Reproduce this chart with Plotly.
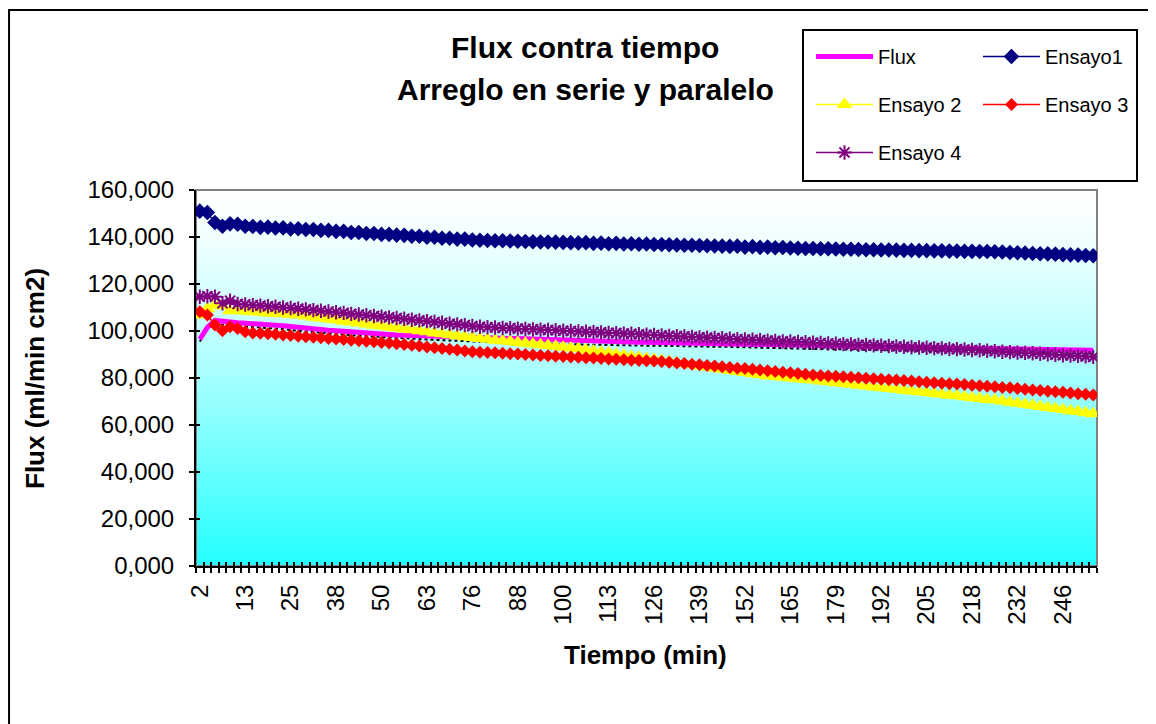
import plotly.graph_objects as go

# ---------------- data ----------------
tiempo = [
    2.0, 3.8, 5.7, 7.5, 9.3, 11.2, 13.0, 15.0, 17.0, 19.0,
    21.0, 23.0, 25.0, 27.2, 29.3, 31.5, 33.7, 35.8, 38.0, 40.0,
    42.0, 44.0, 46.0, 48.0, 50.0, 52.2, 54.3, 56.5, 58.7, 60.8,
    63.0, 65.2, 67.3, 69.5, 71.7, 73.8, 76.0, 78.0, 80.0, 82.0,
    84.0, 86.0, 88.0, 90.0, 92.0, 94.0, 96.0, 98.0, 100.0, 102.2,
    104.3, 106.5, 108.7, 110.8, 113.0, 115.2, 117.3, 119.5, 121.7, 123.8,
    126.0, 128.2, 130.3, 132.5, 134.7, 136.8, 139.0, 141.2, 143.3, 145.5,
    147.7, 149.8, 152.0, 154.2, 156.3, 158.5, 160.7, 162.8, 165.0, 167.3,
    169.7, 172.0, 174.3, 176.7, 179.0, 181.2, 183.3, 185.5, 187.7, 189.8,
    192.0, 194.2, 196.3, 198.5, 200.7, 202.8, 205.0, 207.2, 209.3, 211.5,
    213.7, 215.8, 218.0, 220.3, 222.7, 225.0, 227.3, 229.7, 232.0, 234.3,
    236.7, 239.0, 241.3, 243.7, 246.0, 248.3, 250.7, 253.0, 255.3,
]

flux = [
    96.5, 101.5, 104.5, 104.0, 103.7, 103.5, 103.3, 103.2, 103.0, 102.8,
    102.5, 102.2, 101.8, 101.5, 101.2, 100.8, 100.5, 100.3, 100.1, 99.8,
    99.6, 99.4, 99.2, 99.0, 98.7, 98.5, 98.3, 98.2, 98.0, 97.9,
    97.7, 97.6, 97.5, 97.3, 97.2, 97.0, 96.9, 96.8, 96.7, 96.6,
    96.5, 96.4, 96.4, 96.3, 96.2, 96.1, 96.0, 95.9, 95.8, 95.7,
    95.6, 95.6, 95.5, 95.5, 95.4, 95.4, 95.3, 95.3, 95.2, 95.2,
    95.1, 95.1, 95.0, 95.0, 94.9, 94.9, 94.8, 94.8, 94.7, 94.7,
    94.6, 94.5, 94.4, 94.4, 94.3, 94.2, 94.1, 94.0, 94.0, 93.9,
    93.8, 93.8, 93.7, 93.7, 93.6, 93.6, 93.5, 93.5, 93.4, 93.4,
    93.3, 93.2, 93.2, 93.1, 93.1, 93.0, 93.0, 92.9, 92.8, 92.8,
    92.7, 92.7, 92.6, 92.6, 92.5, 92.5, 92.4, 92.4, 92.3, 92.3,
    92.2, 92.1, 92.1, 92.0, 92.0, 91.9, 91.9, 91.8, 91.8,
]

tendencia = [
    95.5, 100.7, 103.1, 102.6, 102.3, 102.1, 101.9, 101.8, 101.6, 101.4,
    101.1, 100.8, 100.4, 100.1, 99.8, 99.4, 99.1, 98.9, 98.7, 98.4,
    98.2, 98.0, 97.8, 97.6, 97.3, 97.1, 96.9, 96.8, 96.6, 96.5,
    96.3, 96.2, 96.1, 95.9, 95.8, 95.6, 95.5, 95.4, 95.3, 95.2,
    95.1, 95.0, 95.0, 94.9, 94.8, 94.7, 94.6, 94.5, 94.4, 94.3,
    94.2, 94.2, 94.1, 94.1, 94.0, 94.0, 93.9, 93.9, 93.8, 93.8,
    93.7, 93.7, 93.6, 93.6, 93.5, 93.5, 93.4, 93.4, 93.3, 93.3,
    93.2, 93.1, 93.0, 93.0, 92.9, 92.8, 92.7, 92.6, 92.6, 92.5,
    92.4, 92.4, 92.3, 92.3, 92.2, 92.2, 92.1, 92.1, 92.0, 92.0,
    91.9, 91.8, 91.8, 91.7, 91.7, 91.6, 91.6, 91.5, 91.4, 91.4,
    91.3, 91.3, 91.2, 91.2, 91.1, 91.1, 91.0, 91.0, 90.9, 90.9,
    90.8, 90.7, 90.7, 90.6, 90.6, 90.5, 90.5, 90.4, 90.4,
]

ensayo1 = [
    151.0, 150.4, 146.2, 144.6, 145.6, 145.4, 144.6, 144.5, 144.1, 144.2,
    143.8, 143.9, 143.4, 143.5, 143.2, 143.2, 142.8, 142.8, 142.4, 142.4,
    141.9, 141.9, 141.5, 141.5, 141.1, 141.1, 140.8, 140.7, 140.3, 140.3,
    139.9, 139.9, 139.5, 139.5, 139.1, 139.1, 138.7, 138.6, 138.5, 138.4,
    138.4, 138.3, 138.2, 138.1, 138.0, 137.9, 137.9, 137.8, 137.7, 137.6,
    137.5, 137.6, 137.3, 137.4, 137.1, 137.3, 137.0, 137.1, 136.9, 137.0,
    136.8, 136.8, 136.7, 136.6, 136.5, 136.5, 136.4, 136.3, 136.2, 136.1,
    136.0, 136.1, 135.7, 135.9, 135.6, 135.7, 135.4, 135.5, 135.3, 135.2,
    135.1, 135.1, 135.0, 135.0, 134.9, 134.8, 134.8, 134.7, 134.6, 134.6,
    134.5, 134.5, 134.4, 134.3, 134.3, 134.2, 134.2, 134.1, 134.1, 134.0,
    134.0, 133.9, 133.9, 133.8, 133.8, 133.7, 133.6, 133.4, 133.3, 133.2,
    133.0, 132.9, 132.8, 132.7, 132.5, 132.4, 132.3, 132.1, 132.0,
]

ensayo2 = [
    106.8, 109.5, 111.0, 110.6, 108.6, 109.0, 108.4, 108.2, 108.0, 107.7,
    107.5, 107.3, 107.0, 106.8, 106.4, 105.9, 105.5, 105.1, 104.7, 104.2,
    103.8, 103.4, 103.0, 102.5, 102.1, 101.7, 101.3, 100.9, 100.5, 100.1,
    99.7, 99.2, 98.8, 98.4, 98.0, 97.6, 97.2, 96.8, 96.5, 96.1,
    95.8, 95.5, 95.1, 94.8, 94.5, 94.1, 93.8, 93.5, 93.1, 92.8,
    92.4, 91.9, 91.5, 91.0, 90.6, 90.1, 89.7, 89.2, 88.8, 88.3,
    87.9, 87.4, 87.0, 86.5, 86.1, 85.6, 85.1, 84.7, 84.2, 83.7,
    83.2, 82.8, 82.3, 81.8, 81.4, 80.9, 80.6, 80.3, 80.0, 79.7,
    79.4, 79.1, 78.7, 78.4, 78.0, 77.7, 77.3, 76.9, 76.6, 76.2,
    75.9, 75.5, 75.2, 74.8, 74.5, 74.1, 73.8, 73.4, 73.1, 72.7,
    72.4, 72.0, 71.6, 71.3, 70.9, 70.6, 70.2, 69.7, 69.3, 68.8,
    68.4, 67.9, 67.5, 67.0, 66.6, 66.1, 65.7, 65.2, 64.8,
]

ensayo3 = [
    108.2, 106.8, 102.6, 100.1, 101.8, 101.1, 99.7, 99.2, 99.0, 98.8,
    98.6, 98.3, 98.1, 97.8, 97.6, 97.3, 97.1, 96.8, 96.6, 96.4,
    96.1, 95.9, 95.6, 95.4, 95.1, 94.9, 94.6, 94.3, 93.9, 93.6,
    93.2, 92.9, 92.6, 92.2, 91.9, 91.5, 91.2, 91.0, 90.9, 90.7,
    90.5, 90.3, 90.2, 90.0, 89.8, 89.6, 89.5, 89.3, 89.1, 88.9,
    88.8, 88.6, 88.5, 88.3, 88.1, 88.0, 87.8, 87.6, 87.5, 87.3,
    87.2, 87.0, 86.7, 86.4, 86.2, 85.9, 85.6, 85.3, 85.1, 84.8,
    84.5, 84.2, 84.0, 83.7, 83.4, 83.1, 82.8, 82.5, 82.2, 81.9,
    81.6, 81.3, 81.1, 80.9, 80.7, 80.5, 80.3, 80.1, 79.9, 79.7,
    79.5, 79.3, 79.1, 78.9, 78.7, 78.4, 78.2, 78.0, 77.8, 77.6,
    77.4, 77.2, 76.9, 76.7, 76.5, 76.3, 76.0, 75.8, 75.5, 75.2,
    74.9, 74.7, 74.4, 74.1, 73.9, 73.6, 73.3, 73.1, 72.8,
]

ensayo4 = [
    114.6, 114.8, 114.6, 111.8, 112.9, 111.5, 111.3, 111.0, 110.8, 110.5,
    110.3, 110.0, 109.8, 109.5, 109.2, 108.9, 108.6, 108.3, 108.0, 107.7,
    107.3, 107.0, 106.7, 106.4, 106.1, 105.8, 105.5, 105.2, 104.8, 104.5,
    104.2, 103.8, 103.5, 103.1, 102.8, 102.5, 102.1, 101.8, 101.6, 101.5,
    101.3, 101.2, 101.0, 100.9, 100.7, 100.6, 100.4, 100.3, 100.1, 100.0,
    99.8, 99.7, 99.5, 99.4, 99.2, 99.1, 98.9, 98.8, 98.6, 98.4,
    98.3, 98.1, 97.9, 97.8, 97.7, 97.5, 97.3, 97.2, 97.0, 96.9,
    96.7, 96.5, 96.4, 96.3, 96.1, 95.9, 95.8, 95.6, 95.5, 95.3,
    95.2, 95.0, 94.9, 94.7, 94.6, 94.4, 94.3, 94.1, 94.0, 93.9,
    93.7, 93.6, 93.4, 93.3, 93.1, 93.0, 92.9, 92.7, 92.6, 92.4,
    92.3, 92.1, 91.9, 91.8, 91.6, 91.4, 91.2, 91.0, 90.8, 90.7,
    90.5, 90.3, 90.1, 89.9, 89.7, 89.6, 89.4, 89.2, 89.0,
]

y_ticks = [0, 20, 40, 60, 80, 100, 120, 140, 160]

for arr in (flux, tendencia, ensayo1, ensayo2, ensayo3, ensayo4):
    assert len(arr) == len(tiempo)

# ---------------- figure ----------------
FONT = "Liberation Sans, Arial, sans-serif"
n = len(tiempo)
cats = [f"{t:g}" for t in tiempo]
etiquetas = [str(round(t)) if i % 6 == 0 else "" for i, t in enumerate(tiempo)]

fig = go.Figure()

fig.add_trace(go.Scatter(x=cats, y=tendencia, mode="lines", showlegend=False,
                         line=dict(color="black", width=2, dash="dot"), hoverinfo="skip"))
fig.add_trace(go.Scatter(x=cats, y=flux, name="Flux", mode="lines",
                         line=dict(color="#FF00FF", width=5),
                         legend="legend", legendgroup="g1"))
fig.add_trace(go.Scatter(x=cats, y=ensayo1, name="Ensayo1", mode="lines+markers",
                         line=dict(color="#000080", width=1.5),
                         marker=dict(symbol="diamond", size=12, color="#000080"),
                         legend="legend2", legendgroup="g2"))
fig.add_trace(go.Scatter(x=cats, y=ensayo2, name="Ensayo 2", mode="lines+markers",
                         line=dict(color="#FFFF00", width=1.5),
                         marker=dict(symbol="triangle-up", size=14, color="#FFFF00"),
                         legend="legend", legendgroup="g3"))
fig.add_trace(go.Scatter(x=cats, y=ensayo3, name="Ensayo 3", mode="lines+markers",
                         line=dict(color="#FF0000", width=1.5),
                         marker=dict(symbol="diamond", size=10, color="#FF0000"),
                         legend="legend2", legendgroup="g4"))
fig.add_trace(go.Scatter(x=cats, y=ensayo4, name="Ensayo 4", mode="lines+markers",
                         line=dict(color="#800080", width=1.5),
                         marker=dict(symbol="asterisk-open", size=12,
                                     line=dict(color="#800080", width=2)),
                         legend="legend", legendgroup="g5"))
# helper trace for the inner half of the "cross" tick marks
fig.add_trace(go.Scatter(x=cats, y=[None] * n, xaxis="x2", yaxis="y2",
                         showlegend=False, hoverinfo="skip", mode="lines"))

# plot-area gradient (white -> cyan)
shapes = []
N_STRIPS = 94
for k in range(N_STRIPS):
    t = (k + 0.5) / N_STRIPS
    r = int(round(255 - 222 * t ** 1.3))
    shapes.append(dict(type="rect", xref="x domain", yref="y domain",
                       x0=0, x1=1, y0=1 - (k + 1) / N_STRIPS - 0.001, y1=1 - k / N_STRIPS,
                       fillcolor=f"rgb({r},255,255)", line=dict(width=0), layer="below"))
# plot area border (grey)
shapes.append(dict(type="rect", xref="x domain", yref="y domain", x0=0, x1=1, y0=0, y1=1,
                   line=dict(color="#808080", width=2), fillcolor="rgba(0,0,0,0)", layer="below"))
# outer chart border
shapes.append(dict(type="rect", xref="paper", yref="paper",
                   x0=-0.2075, x1=1.0588, y0=-0.45, y1=1.4787,
                   line=dict(color="black", width=2), fillcolor="rgba(0,0,0,0)", layer="above"))
# legend box
shapes.append(dict(type="rect", xref="paper", yref="paper",
                   x0=0.6737, x1=1.0444, y0=1.0239, y1=1.4255,
                   line=dict(color="black", width=2), fillcolor="rgba(0,0,0,0)", layer="above"))

annotations = [
    dict(text="<b>Flux contra tiempo</b>", xref="paper", yref="paper", x=0.4317, y=1.3777,
         xanchor="center", yanchor="middle", showarrow=False,
         font=dict(family=FONT, size=30, color="black")),
    dict(text="<b>Arreglo en serie y paralelo</b>", xref="paper", yref="paper", x=0.4328, y=1.266,
         xanchor="center", yanchor="middle", showarrow=False,
         font=dict(family=FONT, size=30, color="black")),
    dict(text="<b>Tiempo (min)</b>", xref="paper", yref="paper", x=0.4994, y=-0.2367,
         xanchor="center", yanchor="middle", showarrow=False,
         font=dict(family=FONT, size=26, color="black")),
    dict(text="<b>Flux (ml/min cm2)</b>", xref="paper", yref="paper", x=-0.1787, y=0.5,
         xanchor="center", yanchor="middle", showarrow=False, textangle=-90,
         font=dict(family=FONT, size=26, color="black")),
]

legend_common = dict(bgcolor="rgba(0,0,0,0)", borderwidth=0, orientation="v",
                     font=dict(family=FONT, size=20, color="black"),
                     tracegroupgap=19, itemwidth=57, xanchor="left", yanchor="top")

fig.update_layout(
    width=1156, height=724,
    margin=dict(l=188, r=67, t=182, b=166, autoexpand=False),
    paper_bgcolor="white", plot_bgcolor="rgba(0,0,0,0)",
    separators=",.",
    font=dict(family=FONT, color="black"),
    showlegend=True,
    legend=dict(x=0.6826, y=1.4070, **legend_common),
    legend2=dict(x=0.8679, y=1.4070, **legend_common),
    shapes=shapes,
    annotations=annotations,
    xaxis=dict(type="category", range=[-0.5, n - 0.5], tickmode="array",
               tickvals=cats, ticktext=etiquetas, tickson="boundaries",
               ticks="outside", ticklen=5, tickwidth=1.5, tickcolor="black",
               tickangle=-90, tickfont=dict(family=FONT, size=24, color="black"),
               ticklabelstandoff=7,
               showline=True, linecolor="black", linewidth=2,
               showgrid=False, zeroline=False),
    yaxis=dict(range=[0, 160], tickmode="array", tickvals=y_ticks, tickformat=".3f",
               ticks="outside", ticklen=5, tickwidth=1.5, tickcolor="black",
               tickfont=dict(family=FONT, size=24, color="black"),
               ticklabelstandoff=10,
               showline=True, linecolor="black", linewidth=2,
               showgrid=False, zeroline=False),
    xaxis2=dict(type="category", overlaying="x", anchor="y2", range=[-0.5, n - 0.5],
                tickmode="array", tickvals=cats, tickson="boundaries",
                ticks="inside", ticklen=4, tickwidth=1.5, tickcolor="black",
                showticklabels=False, showline=False, showgrid=False, zeroline=False),
    yaxis2=dict(overlaying="y", anchor="x2", range=[0, 160], tickmode="array",
                tickvals=y_ticks, ticks="inside", ticklen=4, tickwidth=1.5,
                tickcolor="black", showticklabels=False, showline=False,
                showgrid=False, zeroline=False, side="left"),
)

fig.write_html("out.html")
